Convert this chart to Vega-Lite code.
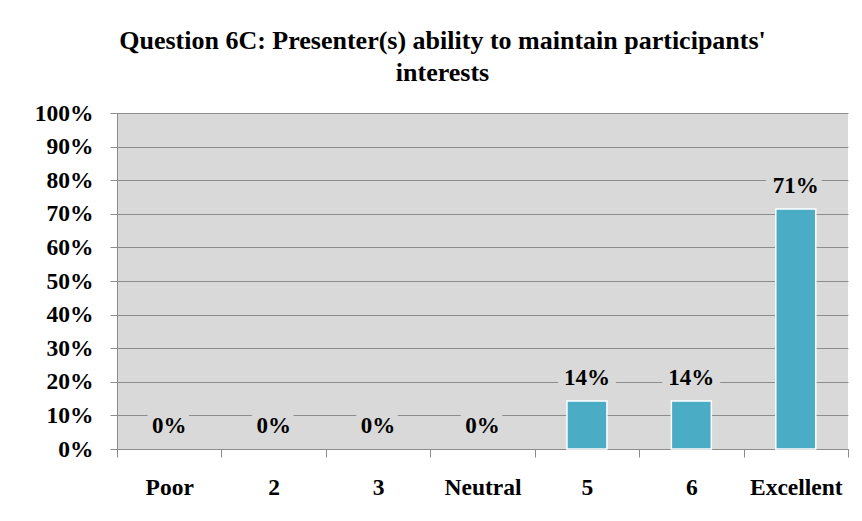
{
  "$schema": "https://vega.github.io/schema/vega-lite/v6.json",
  "width": 731,
  "height": 336,
  "autosize": {"type": "none"},
  "padding": {"left": 117, "top": 113, "right": 14, "bottom": 72},
  "background": "white",
  "title": {
    "text": ["Question 6C: Presenter(s) ability to maintain participants'", "interests"],
    "font": "Liberation Serif",
    "fontSize": 26,
    "fontWeight": "bold",
    "color": "black",
    "anchor": "middle",
    "frame": "group",
    "dx": -40,
    "dy": 36,
    "lineHeight": 32,
    "offset": 30,
    "baseline": "alphabetic"
  },
  "config": {
    "view": {"fill": "#d9d9d9", "stroke": null},
    "axis": {
      "labelFont": "Liberation Serif",
      "labelFontWeight": "bold",
      "labelFontSize": 23.5,
      "labelColor": "black",
      "labelOverlap": false,
      "domainColor": "#8c8c8c",
      "tickColor": "#8c8c8c",
      "gridColor": "#8c8c8c",
      "gridOpacity": 1,
      "title": null
    }
  },
  "data": {
    "values": [
      {"rating": "Poor", "value": 0},
      {"rating": "2", "value": 0},
      {"rating": "3", "value": 0},
      {"rating": "Neutral", "value": 0},
      {"rating": "5", "value": 0.143},
      {"rating": "6", "value": 0.143},
      {"rating": "Excellent", "value": 0.714}
    ]
  },
  "encoding": {
    "x": {
      "field": "rating",
      "type": "nominal",
      "sort": ["Poor", "2", "3", "Neutral", "5", "6", "Excellent"],
      "scale": {"paddingInner": 0, "paddingOuter": 0},
      "axis": {
        "labelAngle": 0,
        "tickBand": "extent",
        "tickSize": 8,
        "labelPadding": 37,
        "labelBaseline": "alphabetic",
        "grid": false
      }
    },
    "y": {
      "field": "value",
      "type": "quantitative",
      "scale": {"domain": [0, 1], "nice": false},
      "axis": {
        "format": ".0%",
        "values": [0, 0.1, 0.2, 0.3, 0.4, 0.5, 0.6, 0.7, 0.8, 0.9, 1],
        "tickSize": 7,
        "labelPadding": 17,
        "grid": true
      }
    }
  },
  "layer": [
    {
      "transform": [{"filter": "datum.value > 0"}],
      "mark": {"type": "bar", "color": "#4bacc6", "stroke": "white", "strokeWidth": 1.5, "width": {"band": 0.383}}
    },
    {
      "mark": {
        "type": "text",
        "baseline": "middle",
        "dy": -23,
        "font": "Liberation Serif",
        "fontWeight": "bold",
        "fontSize": 23,
        "fill": "#d9d9d9",
        "stroke": "#d9d9d9",
        "strokeWidth": 16,
        "strokeJoin": "round"
      },
      "encoding": {"text": {"field": "value", "type": "quantitative", "format": ".0%"}}
    },
    {
      "mark": {
        "type": "text",
        "baseline": "middle",
        "dy": -23,
        "font": "Liberation Serif",
        "fontWeight": "bold",
        "fontSize": 23,
        "color": "black"
      },
      "encoding": {"text": {"field": "value", "type": "quantitative", "format": ".0%"}}
    }
  ]
}
